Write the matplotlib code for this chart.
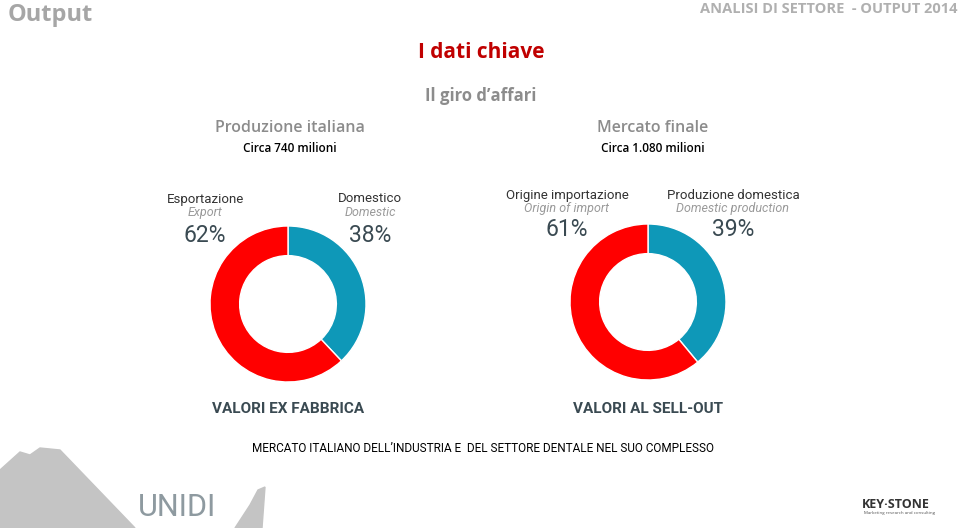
import matplotlib
matplotlib.use("Agg")
import matplotlib.pyplot as plt
from matplotlib.patches import Polygon

# data
charts = ["Produzione italiana", "Mercato finale"]
totals = ["Circa 740 milioni", "Circa 1.080 milioni"]
labels_it = [["Domestico", "Esportazione"], ["Produzione domestica", "Origine importazione"]]
labels_en = [["Domestic", "Export"], ["Domestic production", "Origin of import"]]
shares = [[38, 62], [39, 61]]
footers = ["VALORI EX FABBRICA", "VALORI AL SELL-OUT"]

W, H = 960, 528
BLUE = "#0E98B8"
RED = "#FF0000"
SLATE = "#3A4A52"
GRAY = "#9A9A9A"
FONT = ["Open Sans", "DejaVu Sans"]
NARROW = ["Roboto", "DejaVu Sans"]

fig = plt.figure(figsize=(W / 100, H / 100), dpi=100)
fig.patch.set_facecolor("white")


def txt(x, y, s, **kw):
    kw.setdefault("ha", "center")
    kw.setdefault("va", "center")
    kw.setdefault("family", FONT)
    fig.text(x / W, 1 - y / H, s, **kw)


# header
txt(8, 15, "Output", ha="left", fontsize=17, weight="bold", color="#A6A6A6")
txt(957, 9, "ANALISI DI SETTORE  - OUTPUT 2014", ha="right", fontsize=10.5,
    weight="bold", color="#B0B0B0")
txt(481, 52, "I dati chiave", fontsize=15, weight="bold", color="#C00000")
txt(481, 96, "Il giro d\u2019affari", fontsize=12, weight="bold", color="#8C8C8C")

centers = [(288, 304), (648, 302)]
label_x = [(370, 205), (733, 567)]
label_y = [(199, 213, 235), (195, 209, 230)]
R = 78

for i, (cx, cy) in enumerate(centers):
    hx = cx + 2 if i == 0 else cx + 5
    txt(hx, 128, charts[i], fontsize=11.5, weight="semibold", color="#8C8C8C")
    txt(hx, 148, totals[i], fontsize=8.5, weight="semibold", color="black")

    ax = fig.add_axes([(cx - R) / W, (H - cy - R) / H, 2 * R / W, 2 * R / H])
    ax.pie(shares[i], colors=[BLUE, RED], startangle=90, counterclock=False,
           radius=1, wedgeprops=dict(width=0.38, edgecolor="white", linewidth=1))
    ax.set_xlim(-1, 1)
    ax.set_ylim(-1, 1)
    ax.set_aspect("equal")
    ax.axis("off")

    for j in range(2):
        lx = label_x[i][j]
        y1, y2, y3 = label_y[i]
        txt(lx, y1, labels_it[i][j], fontsize=9.5, family=NARROW, color="#333333")
        txt(lx, y2, labels_en[i][j], fontsize=9, family=NARROW, style="italic", color=GRAY)
        txt(lx, y3, f"{shares[i][j]}%", fontsize=16.5, family=NARROW, color=SLATE)

    txt(cx, 409, footers[i], fontsize=11, weight="bold", family=NARROW, color=SLATE)

txt(483, 448, "MERCATO ITALIANO DELL\u2019INDUSTRIA E  DEL SETTORE DENTALE NEL SUO COMPLESSO",
    fontsize=8.5, family=NARROW, color="black")

# logos (decorative)
deco = fig.add_axes([0, 0, 1, 1], zorder=-1)
deco.set_xlim(0, W)
deco.set_ylim(H, 0)
deco.axis("off")
deco.add_patch(Polygon([(0, 470), (20, 452), (30, 455), (40, 448), (60, 450),
                        (135, 528), (0, 528)], closed=True, color="#C4C4C4"))
deco.add_patch(Polygon([(235, 528), (250, 505), (258, 490), (265, 487), (262, 528)],
                       closed=True, color="#C4C4C4"))
txt(177, 508, "UNIDI", fontsize=22, family=NARROW, color="#8E9AA0")
txt(896, 504, "KEY\u00b7STONE", fontsize=9, weight="bold", color="#333333")
txt(899, 513, "Marketing research and consulting", fontsize=3.2, color="#555555")

fig.savefig("out.png", dpi=100)
